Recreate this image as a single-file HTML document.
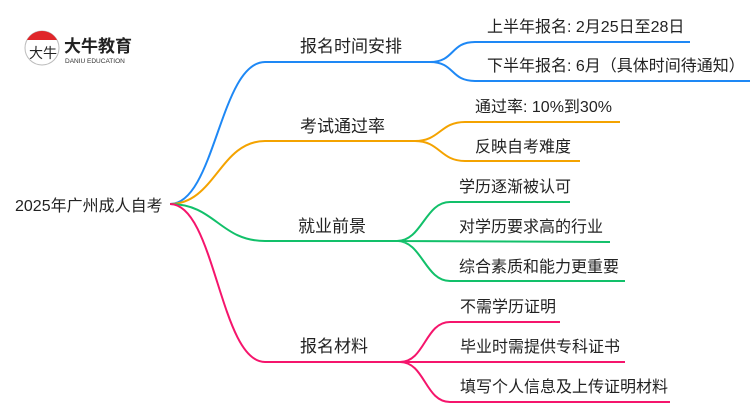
<!DOCTYPE html>
<html><head><meta charset="utf-8"><style>
body{margin:0;background:#fff;width:750px;height:410px;overflow:hidden}
svg text{font-family:"Liberation Sans","Noto Sans CJK SC",sans-serif;fill:#222}
</style></head><body>
<svg width="750" height="410" viewBox="0 0 750 410" xmlns="http://www.w3.org/2000/svg">
<g fill="none" stroke-width="2">
<path d="M170,204 C215,204 220,62 265,62 L430,62" stroke="#1e88f5"/>
<path d="M430,62 C455,62 450,42 475,42 L690,42 M430,62 C455,62 450,81 475,81 L750,81" stroke="#1e88f5"/>
<path d="M170,204 C215,204 220,141 265,141 L415,141" stroke="#f4a300"/>
<path d="M415,141 C440,141 440,122 465,122 L620,122 M415,141 C440,141 440,161 465,161 L580,161" stroke="#f4a300"/>
<path d="M170,204 C215,204 220,241 265,241 L397,241" stroke="#12c06a"/>
<path d="M397,241 C422,241 425,202 450,202 L570,202 M397,241 L610,242 M397,241 C422,241 425,281 450,281 L625,281" stroke="#12c06a"/>
<path d="M170,204 C215,204 220,362 265,362 L400,362" stroke="#f5156c"/>
<path d="M400,362 C425,362 425,322 450,322 L560,322 M400,362 L625,362 M400,362 C425,362 425,402 450,402 L670,402" stroke="#f5156c"/>
</g>
<text x="15" y="211" font-size="16">2025年广州成人自考</text>
<text x="300" y="52" font-size="17">报名时间安排</text>
<text x="300" y="132" font-size="17">考试通过率</text>
<text x="298" y="232" font-size="17">就业前景</text>
<text x="300" y="352" font-size="17">报名材料</text>
<text x="487" y="32" font-size="16">上半年报名: 2月25日至28日</text>
<text x="487" y="71" font-size="16">下半年报名: 6月（具体时间待通知）</text>
<text x="475" y="112" font-size="16">通过率: 10%到30%</text>
<text x="475" y="152" font-size="16">反映自考难度</text>
<text x="459" y="192" font-size="16">学历逐渐被认可</text>
<text x="459" y="232" font-size="16">对学历要求高的行业</text>
<text x="459" y="272" font-size="16">综合素质和能力更重要</text>
<text x="460" y="312" font-size="16">不需学历证明</text>
<text x="460" y="352" font-size="16">毕业时需提供专科证书</text>
<text x="460" y="392" font-size="16">填写个人信息及上传证明材料</text>
<circle cx="42" cy="48" r="17" fill="#fff" stroke="#bbb"/>
<path d="M27,40 A17,17 0 0 1 57,40 Z" fill="#e0262a"/>
<text x="29" y="58" font-size="14" style="fill:#222">大牛</text>
<text x="64" y="52" font-size="17" font-weight="bold" style="fill:#222">大牛教育</text>
<text x="65" y="63" font-size="6.5" style="fill:#333">DANIU EDUCATION</text>
</svg>
</body></html>
